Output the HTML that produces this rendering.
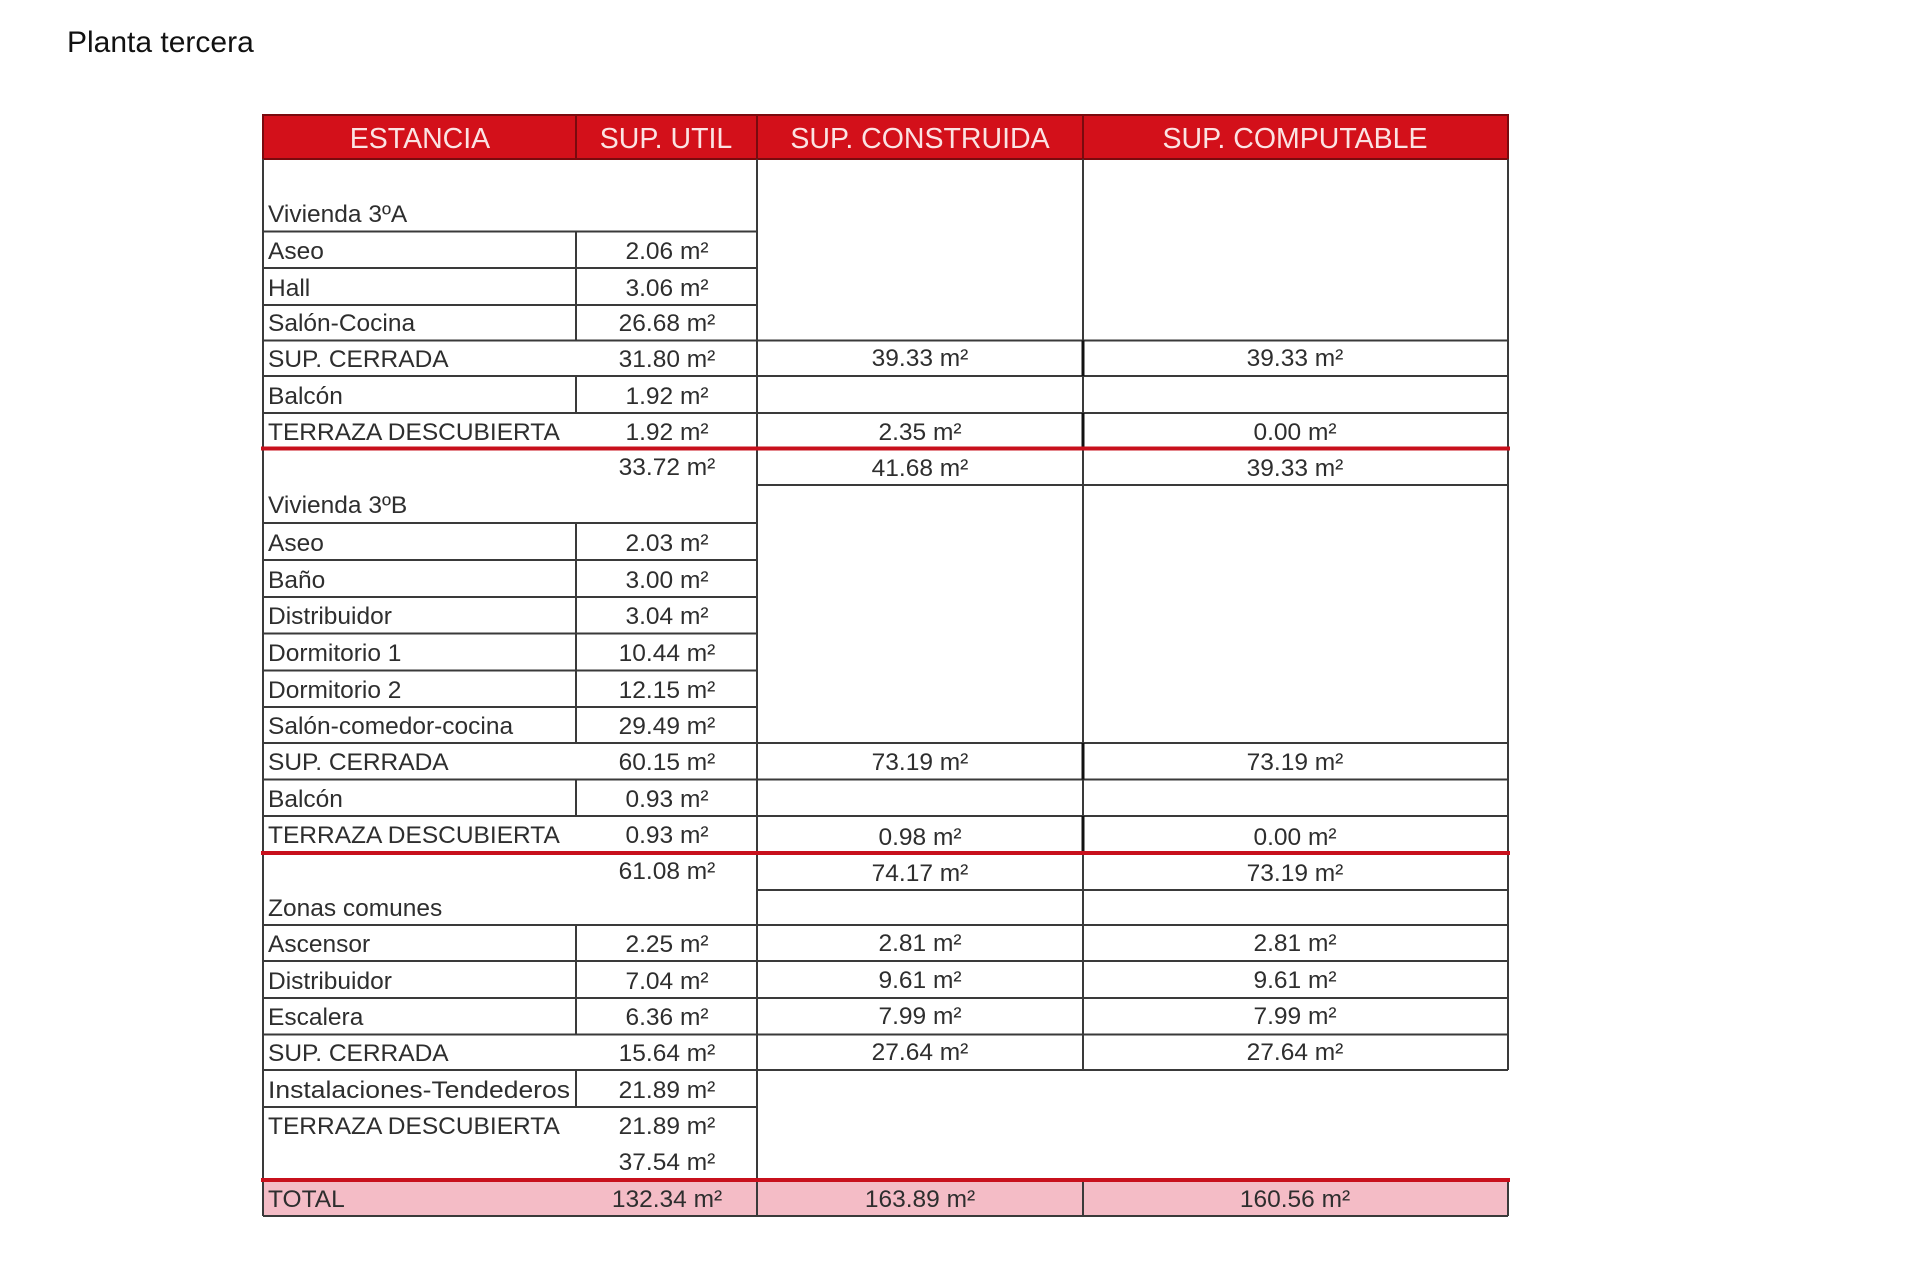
<!DOCTYPE html>
<html><head><meta charset="utf-8"><style>
html,body{margin:0;padding:0;background:#fff;width:1920px;height:1280px;overflow:hidden}
svg{display:block}
text{font-family:"Liberation Sans",sans-serif}
</style></head><body>
<svg width="1920" height="1280" viewBox="0 0 1920 1280" xmlns="http://www.w3.org/2000/svg">
<text x="67" y="52" font-size="30" fill="#111">Planta tercera</text>
<rect x="263" y="1179" width="1245" height="37" fill="#f4bcc6"/>
<rect x="263" y="115" width="1245" height="44" fill="#d3101a" stroke="#7a0a0e" stroke-width="2"/>
<g stroke="#7a0a0e" stroke-width="2"><line x1="576" y1="115" x2="576" y2="159"/><line x1="757" y1="115" x2="757" y2="159"/><line x1="1083" y1="115" x2="1083" y2="159"/></g>
<g fill="#fbe3e3" font-size="28.5" text-anchor="middle">
<text x="420" y="148">ESTANCIA</text><text x="666" y="148">SUP. UTIL</text>
<text x="920" y="148">SUP. CONSTRUIDA</text><text x="1295" y="148">SUP. COMPUTABLE</text></g>
<g stroke="#3a3a3a" stroke-width="2" fill="none">
<line x1="263" y1="159" x2="263" y2="1216"/>
<line x1="757" y1="159" x2="757" y2="1216"/>
<line x1="1083" y1="159" x2="1083" y2="1070"/><line x1="1083" y1="1179" x2="1083" y2="1216"/>
<line x1="1508" y1="159" x2="1508" y2="1070"/><line x1="1508" y1="1179" x2="1508" y2="1216"/>
<line x1="576" y1="231.5" x2="576" y2="340.5"/><line x1="576" y1="376" x2="576" y2="413"/>
<line x1="576" y1="523" x2="576" y2="743"/><line x1="576" y1="779.5" x2="576" y2="816"/>
<line x1="576" y1="925" x2="576" y2="1034.5"/><line x1="576" y1="1070" x2="576" y2="1107"/>
<path d="M263 231.5H757M263 268H757M263 305H757M263 340.5H757M263 376H757M263 413H757M263 523H757M263 560H757M263 597H757M263 633.5H757M263 670.5H757M263 707H757M263 743H757M263 779.5H757M263 816H757M263 925H757M263 961H757M263 998H757M263 1034.5H757M263 1070H757M263 1107H757M263 1216H757"/>
<path d="M757 340.5H1508M757 376H1508M757 413H1508M757 485H1508M757 743H1508M757 779.5H1508M757 816H1508M757 890H1508M757 925H1508M757 961H1508M757 998H1508M757 1034.5H1508M757 1070H1508M757 1216H1508"/>
</g>
<g stroke="#111" stroke-width="3"><line x1="1083" y1="340.5" x2="1083" y2="376"/><line x1="1083" y1="413" x2="1083" y2="448.5"/><line x1="1083" y1="743" x2="1083" y2="779.5"/><line x1="1083" y1="816" x2="1083" y2="853"/></g>
<g stroke="#c8101c" stroke-width="4"><line x1="261" y1="448.5" x2="1510" y2="448.5"/><line x1="261" y1="853" x2="1510" y2="853"/><line x1="261" y1="1180" x2="1510" y2="1180"/></g>
<g fill="#2e2e2e" font-size="24.5">
<text x="268" y="222">Vivienda 3ºA</text>
<text x="268" y="259">Aseo</text><text x="268" y="296">Hall</text><text x="268" y="331">Salón-Cocina</text>
<text x="268" y="367">SUP. CERRADA</text><text x="268" y="404">Balcón</text><text x="268" y="440">TERRAZA DESCUBIERTA</text>
<text x="268" y="513">Vivienda 3ºB</text>
<text x="268" y="551">Aseo</text><text x="268" y="588">Baño</text><text x="268" y="624">Distribuidor</text>
<text x="268" y="661">Dormitorio 1</text><text x="268" y="698">Dormitorio 2</text><text x="268" y="734">Salón-comedor-cocina</text>
<text x="268" y="770">SUP. CERRADA</text><text x="268" y="807">Balcón</text><text x="268" y="843">TERRAZA DESCUBIERTA</text>
<text x="268" y="916">Zonas comunes</text>
<text x="268" y="952">Ascensor</text><text x="268" y="989">Distribuidor</text><text x="268" y="1025">Escalera</text>
<text x="268" y="1061">SUP. CERRADA</text><text x="268" y="1098" textLength="302" lengthAdjust="spacingAndGlyphs">Instalaciones-Tendederos</text>
<text x="268" y="1134">TERRAZA DESCUBIERTA</text>
<text x="268" y="1207">TOTAL</text>
</g>
<g fill="#2e2e2e" font-size="24.5" text-anchor="middle">
<text x="667" y="259">2.06 m²</text><text x="667" y="296">3.06 m²</text><text x="667" y="331">26.68 m²</text>
<text x="667" y="367">31.80 m²</text><text x="920" y="366">39.33 m²</text><text x="1295" y="366">39.33 m²</text>
<text x="667" y="404">1.92 m²</text>
<text x="667" y="440">1.92 m²</text><text x="920" y="440">2.35 m²</text><text x="1295" y="440">0.00 m²</text>
<text x="667" y="475">33.72 m²</text><text x="920" y="476">41.68 m²</text><text x="1295" y="476">39.33 m²</text>
<text x="667" y="551">2.03 m²</text><text x="667" y="588">3.00 m²</text><text x="667" y="624">3.04 m²</text>
<text x="667" y="661">10.44 m²</text><text x="667" y="698">12.15 m²</text><text x="667" y="734">29.49 m²</text>
<text x="667" y="770">60.15 m²</text><text x="920" y="770">73.19 m²</text><text x="1295" y="770">73.19 m²</text>
<text x="667" y="807">0.93 m²</text>
<text x="667" y="843">0.93 m²</text><text x="920" y="845">0.98 m²</text><text x="1295" y="845">0.00 m²</text>
<text x="667" y="879">61.08 m²</text><text x="920" y="881">74.17 m²</text><text x="1295" y="881">73.19 m²</text>
<text x="667" y="952">2.25 m²</text><text x="920" y="951">2.81 m²</text><text x="1295" y="951">2.81 m²</text>
<text x="667" y="989">7.04 m²</text><text x="920" y="988">9.61 m²</text><text x="1295" y="988">9.61 m²</text>
<text x="667" y="1025">6.36 m²</text><text x="920" y="1024">7.99 m²</text><text x="1295" y="1024">7.99 m²</text>
<text x="667" y="1061">15.64 m²</text><text x="920" y="1060">27.64 m²</text><text x="1295" y="1060">27.64 m²</text>
<text x="667" y="1098">21.89 m²</text><text x="667" y="1134">21.89 m²</text><text x="667" y="1170">37.54 m²</text>
<text x="667" y="1207">132.34 m²</text><text x="920" y="1207">163.89 m²</text><text x="1295" y="1207">160.56 m²</text>
</g>
</svg>
</body></html>
